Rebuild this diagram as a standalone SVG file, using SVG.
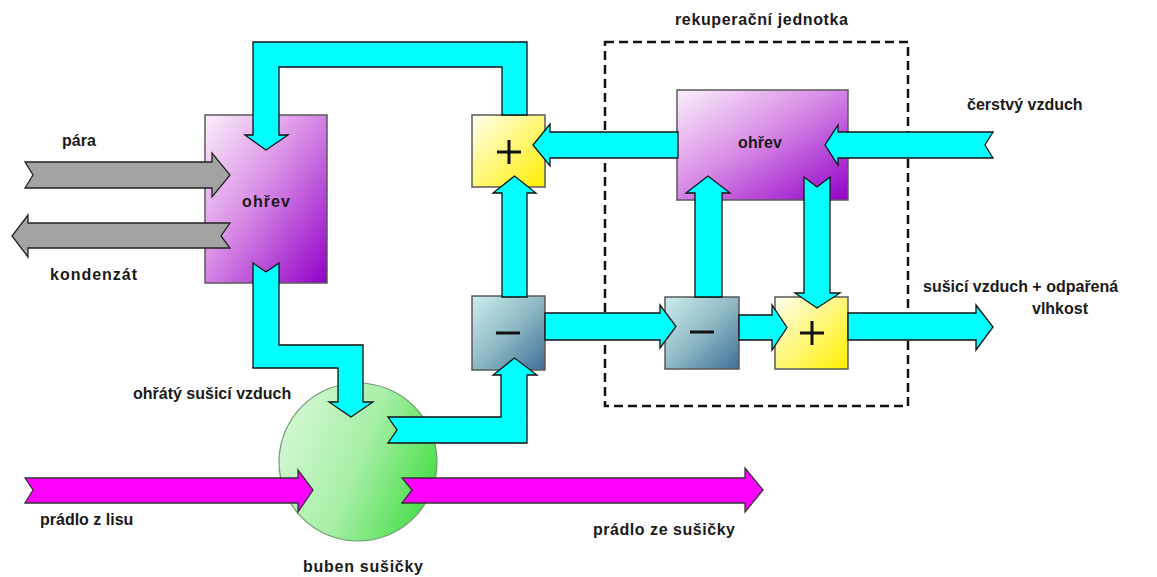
<svg xmlns="http://www.w3.org/2000/svg" width="1157" height="577" viewBox="0 0 1157 577">
<defs>
<linearGradient id="gPurple" x1="0" y1="0" x2="1" y2="1">
<stop offset="0" stop-color="#fbf0fb"/>
<stop offset="0.45" stop-color="#d98ee6"/>
<stop offset="1" stop-color="#9200c8"/>
</linearGradient>
<linearGradient id="gYellow" x1="0" y1="0" x2="1" y2="1">
<stop offset="0" stop-color="#fffff0"/>
<stop offset="1" stop-color="#ffee00"/>
</linearGradient>
<linearGradient id="gBlue" x1="0" y1="0" x2="1" y2="1">
<stop offset="0" stop-color="#cdeeee"/>
<stop offset="0.5" stop-color="#8fb9c4"/>
<stop offset="1" stop-color="#3f6f98"/>
</linearGradient>
<linearGradient id="gGreen" x1="0" y1="0.3" x2="1" y2="0.7">
<stop offset="0" stop-color="#d4f7d4"/>
<stop offset="0.5" stop-color="#a6efa6"/>
<stop offset="1" stop-color="#44dd44"/>
</linearGradient>
</defs>
<style>
.box{stroke:#5a5a5a;stroke-width:1.5}
.air{fill:#00ffff;stroke:#111;stroke-width:1.3;stroke-linejoin:miter}
.steam{fill:#a3a3a3;stroke:#222;stroke-width:1.3}
.cloth{fill:#ff00ff;stroke:#333;stroke-width:1.3}
.sign{stroke:#111;stroke-width:3;fill:none}
.t{font-family:"Liberation Sans",Arial,sans-serif;font-weight:bold;font-size:16px;fill:#1a1a1a}
</style>
<rect x="605" y="42" width="303" height="364" fill="none" stroke="#111" stroke-width="2.5" stroke-dasharray="9,5"/>
<g id="heater-left"><rect class="box" x="205" y="115" width="122" height="168" fill="url(#gPurple)"/><text class="t" x="242" y="207" textLength="48">ohřev</text></g>
<g id="heater-recup"><rect class="box" x="677" y="90" width="171" height="110" fill="url(#gPurple)"/><text class="t" x="738" y="148" textLength="44">ohřev</text></g>
<g id="plus-top"><rect class="box" x="472" y="115" width="73" height="72" fill="url(#gYellow)"/><path class="sign" d="M497 152H521M509 140V164"/></g>
<g id="minus-left"><rect class="box" x="472" y="296" width="73" height="74" fill="url(#gBlue)"/><path class="sign" d="M496 333H520"/></g>
<g id="minus-recup"><rect class="box" x="665" y="297" width="74" height="72" fill="url(#gBlue)"/><path class="sign" d="M690 332H714"/></g>
<g id="plus-recup"><rect class="box" x="775" y="297" width="73" height="72" fill="url(#gYellow)"/><path class="sign" d="M800 333H824M812 321V345"/></g>
<g id="drum"><circle cx="358" cy="462" r="79" fill="url(#gGreen)" stroke="#6f9a6f" stroke-width="1.2"/></g>
<g id="connectors">
<polygon class="air" points="502,115 502,67 279,67 279,135 288,135 266,150 245,135 253,135 253,42 527,42 527,115"/>
<polygon class="air" points="678,132 550,132 550,124 533,145 550,166 550,158 678,158"/>
<polygon class="air" points="502,297 502,193 493,193 514.5,176 536,193 527,193 527,297"/>
<polygon class="air" points="388,417 501,417 501,375 493,375 514.5,358 537,375 527,375 527,443 388,443 397,430"/>
<polygon class="air" points="253,263 266,272 279,263 279,345 363,345 363,402 373,402 351,417 329,402 338,402 338,368 253,368"/>
<polygon class="air" points="545,313 660,313 660,305 676,326.5 660,348 660,340 545,340"/>
<polygon class="air" points="739,315 772,315 772,305 787,327.5 772,350 772,340 739,340"/>
<polygon class="air" points="848,313 976,313 976,305 993,327 976,350 976,340 848,340"/>
<polygon class="air" points="993,132 838,132 838,125 825,145 838,165 838,158 993,158 985,145"/>
<polygon class="air" points="695,297 695,193 686,193 708,176 730,193 722,193 722,297"/>
<polygon class="air" points="804,177 817,187 830,177 830,293 840,293 817,308 795,293 804,293"/>
<polygon class="steam" points="25,162 212,162 212,153 230,175 212,197 212,188 25,188 33,175"/>
<polygon class="steam" points="230,223 28,223 28,215 12,236 28,257 28,248 230,248 221,236"/>
<polygon class="cloth" points="25,478 298,478 298,470 313,490 298,512 298,503 25,503 33,490"/>
<polygon class="cloth" points="402,478 745,478 745,468 763,490 745,512 745,503 402,503 412,490"/>
</g>
<g id="labels">
<text class="t" x="675" y="25" textLength="173">rekuperační jednotka</text>
<text class="t" x="62" y="146">pára</text>
<text class="t" x="50" y="280" textLength="87">kondenzát</text>
<text class="t" x="967" y="110">čerstvý vzduch</text>
<text class="t" x="923" y="292">sušicí vzduch + odpařená</text>
<text class="t" x="1032" y="314">vlhkost</text>
<text class="t" x="133" y="399">ohřátý sušicí vzduch</text>
<text class="t" x="303" y="572" textLength="120">buben sušičky</text>
<text class="t" x="40" y="525">prádlo z lisu</text>
<text class="t" x="593" y="535" textLength="142">prádlo ze sušičky</text>
</g>
</svg>
